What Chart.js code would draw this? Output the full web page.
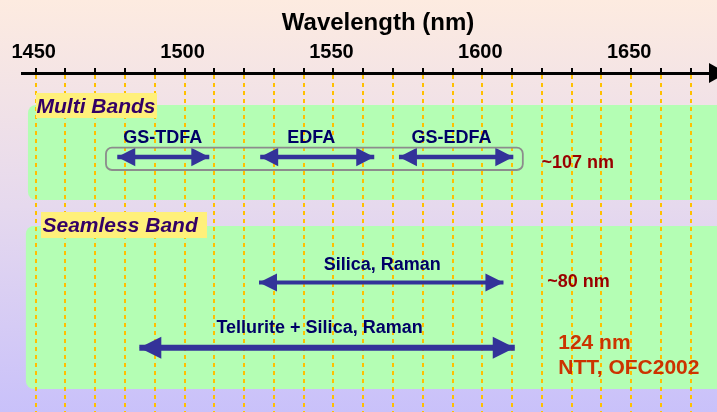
<!DOCTYPE html>
<html><head><meta charset="utf-8">
<script src="https://cdn.jsdelivr.net/npm/chart.js@4"></script>
<style>html,body{margin:0;padding:0;overflow:hidden;background:#fff}canvas{display:block}</style>
</head><body>
<canvas id="c" width="717" height="412"></canvas>
<script>
// ---- data ----
const tickValues = [1450,1460,1470,1480,1490,1500,1510,1520,1530,1540,1550,1560,1570,1580,1590,1600,1610,1620,1630,1640,1650,1660,1670];
const tickLabels = ['1450','1500','1550','1600','1650'];
const axisTitle = 'Wavelength (nm)';
const bandNames = ['GS-TDFA','EDFA','GS-EDFA','Silica, Raman','Tellurite + Silica, Raman'];
const bandStart = [1477.4,1525.4,1572.0,1525.0,1484.8];
const bandEnd   = [1508.3,1563.7,1610.4,1607.1,1610.9];
const bandLane  = [84,84,84,209.5,274.7];
const groupNames = ['Multi Bands','Seamless Band'];
const noteTexts = ['~107 nm','~80 nm','124 nm','NTT, OFC2002'];

// ---- styles / layout ----
const FONT = '"Liberation Sans", Arial, Helvetica, sans-serif';
const shaftW = [4.5,4.5,4.5,4,6];
const headLen = [18,18,18,18,22];
const headHalf = [9.3,9.3,9.3,9,11];
const labelDx = [-0.6,-6,-4.7,1,-7.5];
const labelLift = [14.3,14.3,14.3,13,15];

const deco = {
  id: 'deco',
  beforeDraw(chart) {
    const {ctx, width, height} = chart;
    const xs = chart.scales.x, ys = chart.scales.y;
    const X = v => xs.getPixelForValue(v), Y = v => ys.getPixelForValue(v);
    ctx.save();
    const g = ctx.createLinearGradient(0, 0, 0, height);
    g.addColorStop(0, '#FDEBE0');
    g.addColorStop(0.5, '#E6D9EE');
    g.addColorStop(1, '#C9C1FA');
    ctx.fillStyle = g;
    ctx.fillRect(0, 0, width, height);
    ctx.fillStyle = '#B4FEB4';
    ctx.beginPath(); ctx.roundRect(X(1447.4), Y(32), width + 20 - X(1447.4), Y(127) - Y(32), 8); ctx.fill();
    ctx.beginPath(); ctx.roundRect(X(1446.7), Y(153), width + 20 - X(1446.7), Y(316) - Y(153), 8); ctx.fill();
    ctx.restore();
  },
  afterDatasetsDraw(chart) {
    const {ctx} = chart;
    ctx.save();
    chart.data.datasets.forEach((ds, i) => {
      const pts = chart.getDatasetMeta(i).data;
      const a = pts[0], b = pts[1];
      ctx.fillStyle = '#333399';
      const L = headLen[i], H = headHalf[i];
      ctx.beginPath(); ctx.moveTo(a.x, a.y); ctx.lineTo(a.x + L, a.y - H); ctx.lineTo(a.x + L, a.y + H); ctx.closePath(); ctx.fill();
      ctx.beginPath(); ctx.moveTo(b.x, b.y); ctx.lineTo(b.x - L, b.y - H); ctx.lineTo(b.x - L, b.y + H); ctx.closePath(); ctx.fill();
      ctx.fillStyle = '#000066';
      ctx.font = 'bold 18px ' + FONT;
      ctx.textAlign = 'center'; ctx.textBaseline = 'alphabetic';
      ctx.fillText(ds.label, (a.x + b.x) / 2 + labelDx[i], a.y - labelLift[i]);
    });
    ctx.restore();
  },
  afterDraw(chart) {
    const {ctx} = chart;
    const xs = chart.scales.x, ys = chart.scales.y;
    const X = v => xs.getPixelForValue(v), Y = v => ys.getPixelForValue(v);
    ctx.save();
    // gray rounded frame around multi bands
    ctx.strokeStyle = '#8C8C8C'; ctx.lineWidth = 1.8;
    ctx.beginPath(); ctx.roundRect(X(1473.6), Y(74.7), X(1613.6) - X(1473.6), Y(97) - Y(74.7), 6); ctx.stroke();
    // group labels
    ctx.fillStyle = '#FFF07A';
    ctx.fillRect(36, Y(20), 121, Y(45) - Y(20));
    ctx.fillRect(41, Y(139), 166, Y(165) - Y(139));
    ctx.fillStyle = '#330066';
    ctx.font = 'italic bold 21px ' + FONT;
    ctx.textAlign = 'left'; ctx.textBaseline = 'alphabetic';
    ctx.fillText(groupNames[0], 36.5, Y(39.7));
    ctx.fillText(groupNames[1], 42.5, Y(158.7));
    // notes
    ctx.fillStyle = '#990000';
    ctx.font = 'bold 18px ' + FONT;
    ctx.fillText(noteTexts[0], X(1619.9), Y(95.3));
    ctx.fillText(noteTexts[1], X(1621.8), Y(213.7));
    ctx.fillStyle = '#CC3300';
    ctx.font = 'bold 21px ' + FONT;
    ctx.fillText(noteTexts[2], X(1625.5), Y(276));
    ctx.fillText(noteTexts[3], X(1625.5), Y(301));
    // axis title
    ctx.fillStyle = '#000';
    ctx.font = 'bold 24px ' + FONT;
    ctx.textAlign = 'center';
    ctx.fillText(axisTitle, 378, 29.5);
    // axis arrow head
    const ay = xs.bottom;
    ctx.beginPath(); ctx.moveTo(xs.right - 2, ay - 10); ctx.lineTo(xs.right + 16, ay); ctx.lineTo(xs.right - 2, ay + 10); ctx.closePath(); ctx.fill();
    ctx.restore();
  }
};

new Chart(document.getElementById('c').getContext('2d'), {
  type: 'line',
  data: {
    datasets: bandNames.map((n, i) => ({
      label: n,
      data: [{x: bandStart[i], y: bandLane[i]}, {x: bandEnd[i], y: bandLane[i]}],
      borderColor: '#333399', backgroundColor: '#333399',
      borderWidth: shaftW[i], pointRadius: 0, fill: false, tension: 0
    }))
  },
  options: {
    responsive: false, animation: false, events: [],
    layout: {padding: {top: 40, left: 22, right: 6, bottom: 0}},
    plugins: {legend: {display: false}, tooltip: {enabled: false}, title: {display: false}},
    scales: {
      x: {
        type: 'linear', position: 'top', min: 1445.4, max: 1676.8,
        afterBuildTicks: s => { s.ticks = tickValues.map(v => ({value: v})); },
        afterFit: s => { s.height = 33; },
        ticks: {
          autoSkip: false, maxRotation: 0, minRotation: 0, padding: 4, labelOffset: -2,
          color: '#000', font: {family: FONT, size: 20, weight: 'bold'},
          callback: v => tickLabels.includes(String(v)) ? String(v) : ''
        },
        grid: {color: '#FFC000', lineWidth: 2, tickColor: '#000', tickWidth: 2, tickLength: 5, tickBorderDash: [], drawOnChartArea: true},
        border: {display: true, color: '#000', width: 3, dash: [4, 4]}
      },
      y: {type: 'linear', display: false, min: 0, max: 339, reverse: true}
    }
  },
  plugins: [deco]
});
</script>
</body></html>
